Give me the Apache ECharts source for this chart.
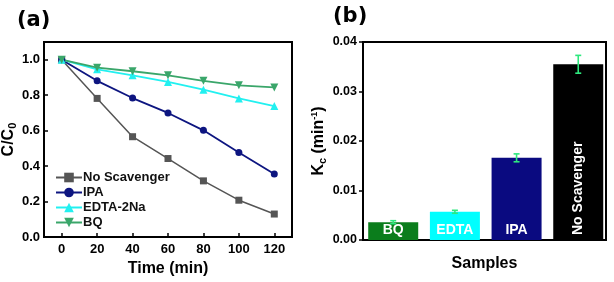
<!DOCTYPE html>
<html><head><meta charset="utf-8">
<script src="https://cdn.jsdelivr.net/npm/echarts@6/dist/echarts.min.js"></script>
<style>html,body{margin:0;padding:0;background:#fff}#c{width:614px;height:282px}</style>
</head><body><div id="c"></div>
<script>
// Panel (a) data
const times = [0, 20, 40, 60, 80, 100, 120];
const noScavenger = [1.0, 0.782, 0.566, 0.443, 0.317, 0.208, 0.130];
const ipa = [1.0, 0.881, 0.784, 0.700, 0.602, 0.477, 0.356];
const edta = [1.0, 0.946, 0.912, 0.875, 0.831, 0.782, 0.739];
const bq = [1.0, 0.955, 0.935, 0.912, 0.881, 0.856, 0.844];
const xTicksA = [0, 20, 40, 60, 80, 100, 120];
const yTicksA = [0, 0.2, 0.4, 0.6, 0.8, 1.0];
// Panel (b) data
const samples = ['BQ', 'EDTA', 'IPA', 'No Scavenger'];
const kc = [0.0036, 0.0057, 0.0166, 0.0355];
const kcErr = [0.0003, 0.0003, 0.0008, 0.0018];
const barColors = ['#0b7d1c', '#00ffff', '#0a0a80', '#000000'];

const F = 'Liberation Sans, Arial, sans-serif';
const pair = (arr) => arr.map((v, i) => [times[i], v]);

const chart = echarts.init(document.getElementById('c'), null, {renderer: 'canvas'});
const option = {
  animation: false,
  textStyle: {fontFamily: F},
  grid: [
    {left: 44, top: 42, width: 248, height: 198, show: true, borderColor: '#000', borderWidth: 2, backgroundColor: 'transparent'},
    {left: 363, top: 42, width: 243, height: 198, show: true, borderColor: '#000', borderWidth: 2, backgroundColor: 'transparent'}
  ],
  graphic: [
    {type: 'text', left: 17, top: 10, style: {text: '(a)', font: 'bold 21px DejaVu Sans, sans-serif', fill: '#000'}},
    {type: 'text', left: 333, top: 6, style: {text: '(b)', font: 'bold 21px DejaVu Sans, sans-serif', fill: '#000'}}
  ],
  legend: {
    left: 50, top: 166, orient: 'vertical', itemWidth: 26, itemHeight: 12, itemGap: 2,
    textStyle: {fontFamily: F, fontWeight: 'bold', fontSize: 13, color: '#111', padding: [0, 0, 0, -4]},
    data: ['No Scavenger', 'IPA', 'EDTA-2Na', 'BQ']
  },
  xAxis: [
    {type: 'value', gridIndex: 0, min: -10, max: 130,
     name: 'Time (min)', nameLocation: 'middle', nameGap: 20,
     nameTextStyle: {fontFamily: F, fontWeight: 'bold', fontSize: 16, color: '#000'},
     axisLine: {show: true, onZero: false, lineStyle: {color: '#000', width: 2}},
     axisTick: {show: true, inside: true, length: 4, customValues: xTicksA, lineStyle: {color: '#000', width: 1.5}},
     axisLabel: {customValues: xTicksA, fontFamily: F, fontWeight: 'bold', fontSize: 13, color: '#000', margin: 6},
     splitLine: {show: false}},
    {type: 'value', gridIndex: 1, min: 0.51, max: 4.45,
     name: 'Samples', nameLocation: 'middle', nameGap: 16,
     nameTextStyle: {fontFamily: F, fontWeight: 'bold', fontSize: 16, color: '#000'},
     axisLine: {show: true, onZero: false, lineStyle: {color: '#000', width: 2}},
     axisTick: {show: false}, axisLabel: {show: false}, splitLine: {show: false}}
  ],
  yAxis: [
    {type: 'value', gridIndex: 0, min: 0, max: 1.1,
     name: '{a|C/C}{s|0}', nameLocation: 'middle', nameGap: 26,
     nameTextStyle: {rich: {
       a: {fontFamily: F, fontWeight: 'bold', fontSize: 16, color: '#000', lineHeight: 18},
       s: {fontFamily: F, fontWeight: 'bold', fontSize: 11, color: '#000', lineHeight: 18, verticalAlign: 'bottom'}}},
     axisLine: {show: true, onZero: false, lineStyle: {color: '#000', width: 2}},
     axisTick: {show: true, inside: true, length: 4, customValues: yTicksA, lineStyle: {color: '#000', width: 1.5}},
     axisLabel: {customValues: yTicksA, formatter: v => v.toFixed(1), fontFamily: F, fontWeight: 'bold', fontSize: 13, color: '#000', margin: 4},
     splitLine: {show: false}},
    {type: 'value', gridIndex: 1, min: 0, max: 0.04, interval: 0.01,
     name: '{a|K}{s|c}{a| (min}{u|-1}{a|)}', nameLocation: 'middle', nameGap: 35,
     nameTextStyle: {rich: {
       a: {fontFamily: F, fontWeight: 'bold', fontSize: 16, color: '#000', lineHeight: 18},
       s: {fontFamily: F, fontWeight: 'bold', fontSize: 11, color: '#000', lineHeight: 18, verticalAlign: 'bottom'},
       u: {fontFamily: F, fontWeight: 'bold', fontSize: 9, color: '#000', lineHeight: 18, verticalAlign: 'top'}}},
     axisLine: {show: true, onZero: false, lineStyle: {color: '#000', width: 2}},
     axisTick: {show: true, inside: false, length: 4, lineStyle: {color: '#000', width: 1.5}},
     axisLabel: {formatter: v => v.toFixed(2), fontFamily: F, fontWeight: 'bold', fontSize: 12.5, color: '#000', margin: 6},
     splitLine: {show: false}}
  ],
  series: [
    {name: 'No Scavenger', type: 'line', xAxisIndex: 0, yAxisIndex: 0, data: pair(noScavenger),
     symbol: 'rect', symbolSize: 7, lineStyle: {color: '#555', width: 1.5}, itemStyle: {color: '#555'}},
    {name: 'IPA', type: 'line', xAxisIndex: 0, yAxisIndex: 0, data: pair(ipa),
     symbol: 'circle', symbolSize: 7, lineStyle: {color: '#0d1580', width: 1.8}, itemStyle: {color: '#0d1580'}},
    {name: 'EDTA-2Na', type: 'line', xAxisIndex: 0, yAxisIndex: 0, data: pair(edta),
     symbol: 'triangle', symbolSize: 8, lineStyle: {color: '#22f0f0', width: 1.8}, itemStyle: {color: '#22f0f0'}},
    {name: 'BQ', type: 'line', xAxisIndex: 0, yAxisIndex: 0, data: pair(bq),
     symbol: 'triangle', symbolRotate: 180, symbolSize: 8, lineStyle: {color: '#3aa66a', width: 1.8}, itemStyle: {color: '#3aa66a'}},
    {type: 'bar', xAxisIndex: 1, yAxisIndex: 1, barWidth: 50,
     data: kc.map((v, i) => ({
       value: [i + 1, v], itemStyle: {color: barColors[i]},
       label: i === 3
         ? {show: true, formatter: samples[i], position: 'insideBottom', rotate: 90, align: 'left', verticalAlign: 'middle', distance: 5,
            color: '#fff', fontFamily: F, fontWeight: 'bold', fontSize: 14}
         : {show: true, formatter: samples[i], position: 'insideBottom', distance: 3,
            color: '#fff', fontFamily: F, fontWeight: 'bold', fontSize: 14}
     }))},
    {type: 'custom', xAxisIndex: 1, yAxisIndex: 1, z: 5,
     data: kc.map((v, i) => [i + 1, v - kcErr[i], v + kcErr[i]]),
     renderItem: (params, api) => {
       const lo = api.coord([api.value(0), api.value(1)]);
       const hi = api.coord([api.value(0), api.value(2)]);
       const w = 3;
       const st = {stroke: '#2ee87e', lineWidth: 1.6};
       return {type: 'group', children: [
         {type: 'line', shape: {x1: lo[0], y1: lo[1], x2: hi[0], y2: hi[1]}, style: st},
         {type: 'line', shape: {x1: lo[0] - w, y1: lo[1], x2: lo[0] + w, y2: lo[1]}, style: st},
         {type: 'line', shape: {x1: hi[0] - w, y1: hi[1], x2: hi[0] + w, y2: hi[1]}, style: st}
       ]};
     }}
  ]
};
chart.setOption(option);
</script></body></html>
